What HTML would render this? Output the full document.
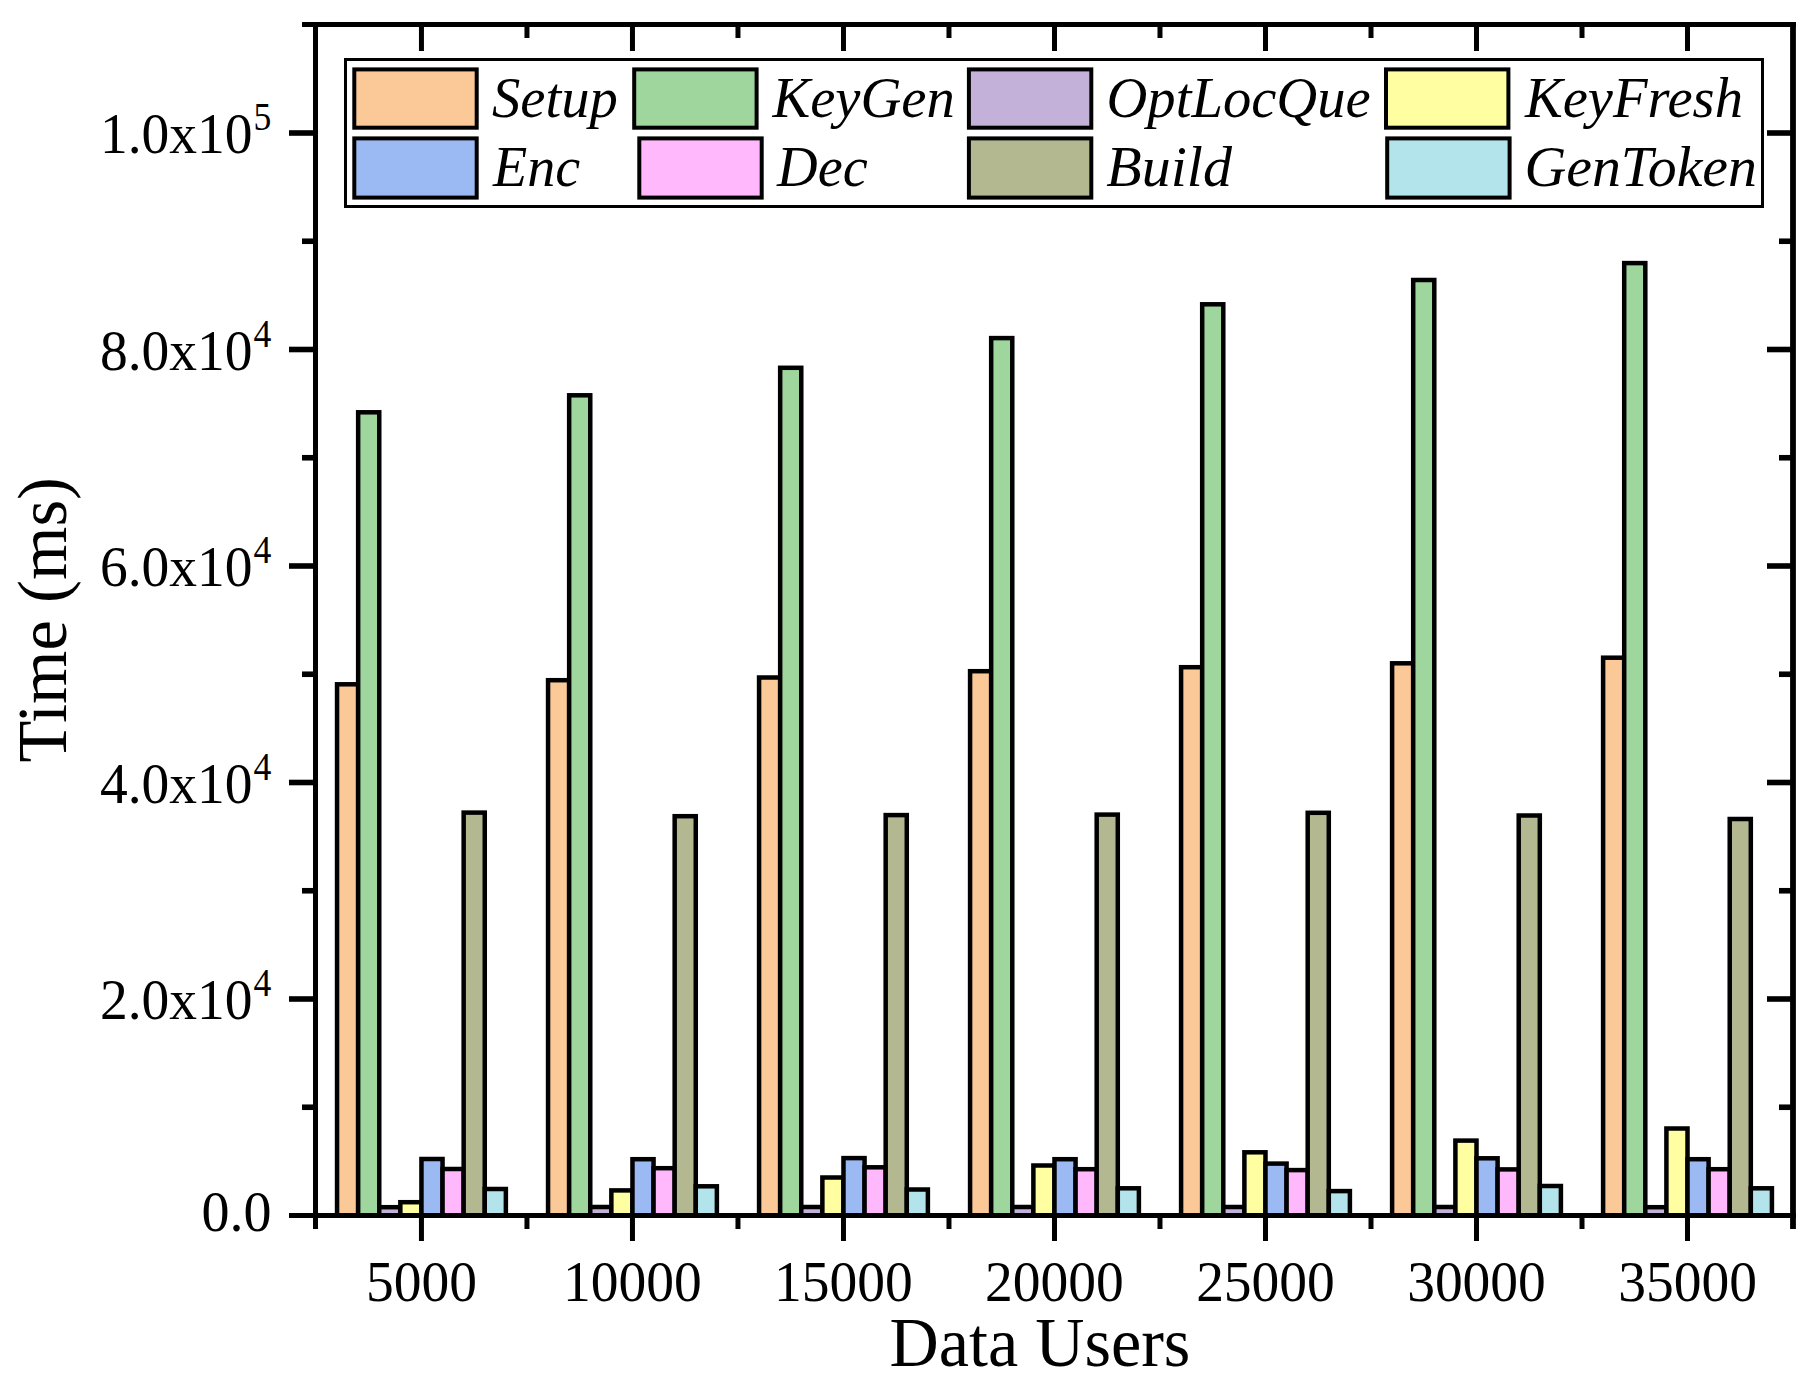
<!DOCTYPE html>
<html lang="en"><head><meta charset="utf-8"><title>Time vs Data Users</title>
<style>html,body{margin:0;padding:0;background:#fff;}body{width:1817px;height:1389px;overflow:hidden;}svg{display:block;}</style>
</head><body>
<svg width="1817" height="1389" viewBox="0 0 1817 1389">
<rect width="1817" height="1389" fill="#fff"/>
<g stroke="#000" stroke-width="4.5" stroke-linejoin="miter">
<rect x="337.05" y="684.30" width="21.10" height="531.20" fill="#FBC898"/>
<rect x="358.15" y="412.30" width="21.10" height="803.20" fill="#9FD69E"/>
<rect x="379.25" y="1207.20" width="21.10" height="8.30" fill="#C3B1D9"/>
<rect x="400.35" y="1202.20" width="21.10" height="13.30" fill="#FFFFA1"/>
<rect x="421.45" y="1159.00" width="21.10" height="56.50" fill="#9BBAF4"/>
<rect x="442.56" y="1169.00" width="21.10" height="46.50" fill="#FFB8FB"/>
<rect x="463.66" y="812.60" width="21.10" height="402.90" fill="#B3B890"/>
<rect x="484.76" y="1189.00" width="21.10" height="26.50" fill="#B3E4EB"/>
<rect x="548.06" y="680.20" width="21.10" height="535.30" fill="#FBC898"/>
<rect x="569.16" y="395.30" width="21.10" height="820.20" fill="#9FD69E"/>
<rect x="590.26" y="1207.00" width="21.10" height="8.50" fill="#C3B1D9"/>
<rect x="611.36" y="1190.40" width="21.10" height="25.10" fill="#FFFFA1"/>
<rect x="632.46" y="1159.20" width="21.10" height="56.30" fill="#9BBAF4"/>
<rect x="653.57" y="1168.20" width="21.10" height="47.30" fill="#FFB8FB"/>
<rect x="674.67" y="816.20" width="21.10" height="399.30" fill="#B3B890"/>
<rect x="695.77" y="1186.30" width="21.10" height="29.20" fill="#B3E4EB"/>
<rect x="759.07" y="677.50" width="21.10" height="538.00" fill="#FBC898"/>
<rect x="780.17" y="367.80" width="21.10" height="847.70" fill="#9FD69E"/>
<rect x="801.27" y="1207.00" width="21.10" height="8.50" fill="#C3B1D9"/>
<rect x="822.37" y="1177.50" width="21.10" height="38.00" fill="#FFFFA1"/>
<rect x="843.47" y="1158.10" width="21.10" height="57.40" fill="#9BBAF4"/>
<rect x="864.58" y="1167.30" width="21.10" height="48.20" fill="#FFB8FB"/>
<rect x="885.68" y="815.10" width="21.10" height="400.40" fill="#B3B890"/>
<rect x="906.78" y="1189.50" width="21.10" height="26.00" fill="#B3E4EB"/>
<rect x="970.08" y="671.20" width="21.10" height="544.30" fill="#FBC898"/>
<rect x="991.18" y="338.10" width="21.10" height="877.40" fill="#9FD69E"/>
<rect x="1012.28" y="1207.00" width="21.10" height="8.50" fill="#C3B1D9"/>
<rect x="1033.38" y="1165.50" width="21.10" height="50.00" fill="#FFFFA1"/>
<rect x="1054.48" y="1159.20" width="21.10" height="56.30" fill="#9BBAF4"/>
<rect x="1075.59" y="1169.20" width="21.10" height="46.30" fill="#FFB8FB"/>
<rect x="1096.69" y="814.60" width="21.10" height="400.90" fill="#B3B890"/>
<rect x="1117.79" y="1188.30" width="21.10" height="27.20" fill="#B3E4EB"/>
<rect x="1181.09" y="667.20" width="21.10" height="548.30" fill="#FBC898"/>
<rect x="1202.19" y="304.30" width="21.10" height="911.20" fill="#9FD69E"/>
<rect x="1223.29" y="1207.00" width="21.10" height="8.50" fill="#C3B1D9"/>
<rect x="1244.39" y="1152.30" width="21.10" height="63.20" fill="#FFFFA1"/>
<rect x="1265.49" y="1163.60" width="21.10" height="51.90" fill="#9BBAF4"/>
<rect x="1286.60" y="1170.10" width="21.10" height="45.40" fill="#FFB8FB"/>
<rect x="1307.70" y="812.80" width="21.10" height="402.70" fill="#B3B890"/>
<rect x="1328.80" y="1191.10" width="21.10" height="24.40" fill="#B3E4EB"/>
<rect x="1392.10" y="663.30" width="21.10" height="552.20" fill="#FBC898"/>
<rect x="1413.20" y="280.00" width="21.10" height="935.50" fill="#9FD69E"/>
<rect x="1434.30" y="1207.00" width="21.10" height="8.50" fill="#C3B1D9"/>
<rect x="1455.40" y="1140.60" width="21.10" height="74.90" fill="#FFFFA1"/>
<rect x="1476.50" y="1158.30" width="21.10" height="57.20" fill="#9BBAF4"/>
<rect x="1497.61" y="1169.40" width="21.10" height="46.10" fill="#FFB8FB"/>
<rect x="1518.71" y="815.50" width="21.10" height="400.00" fill="#B3B890"/>
<rect x="1539.81" y="1186.00" width="21.10" height="29.50" fill="#B3E4EB"/>
<rect x="1603.11" y="657.70" width="21.10" height="557.80" fill="#FBC898"/>
<rect x="1624.21" y="263.10" width="21.10" height="952.40" fill="#9FD69E"/>
<rect x="1645.31" y="1207.20" width="21.10" height="8.30" fill="#C3B1D9"/>
<rect x="1666.41" y="1128.50" width="21.10" height="87.00" fill="#FFFFA1"/>
<rect x="1687.52" y="1159.20" width="21.10" height="56.30" fill="#9BBAF4"/>
<rect x="1708.62" y="1169.20" width="21.10" height="46.30" fill="#FFB8FB"/>
<rect x="1729.72" y="819.00" width="21.10" height="396.50" fill="#B3B890"/>
<rect x="1750.82" y="1188.30" width="21.10" height="27.20" fill="#B3E4EB"/>
</g>
<g stroke="#000" stroke-width="5" fill="none" stroke-linecap="butt">
<line x1="302" y1="24.5" x2="1796" y2="24.5"/>
<line x1="289" y1="1215.5" x2="1796" y2="1215.5"/>
<line x1="315.5" y1="22" x2="315.5" y2="1229"/>
<line x1="1793.0" y1="22" x2="1793.0" y2="1229" stroke-width="5.8"/>
<line x1="421.45" y1="1217" x2="421.45" y2="1241"/>
<line x1="421.45" y1="26" x2="421.45" y2="51"/>
<line x1="632.46" y1="1217" x2="632.46" y2="1241"/>
<line x1="632.46" y1="26" x2="632.46" y2="51"/>
<line x1="843.47" y1="1217" x2="843.47" y2="1241"/>
<line x1="843.47" y1="26" x2="843.47" y2="51"/>
<line x1="1054.48" y1="1217" x2="1054.48" y2="1241"/>
<line x1="1054.48" y1="26" x2="1054.48" y2="51"/>
<line x1="1265.49" y1="1217" x2="1265.49" y2="1241"/>
<line x1="1265.49" y1="26" x2="1265.49" y2="51"/>
<line x1="1476.50" y1="1217" x2="1476.50" y2="1241"/>
<line x1="1476.50" y1="26" x2="1476.50" y2="51"/>
<line x1="1687.52" y1="1217" x2="1687.52" y2="1241"/>
<line x1="1687.52" y1="26" x2="1687.52" y2="51"/>
<line x1="526.96" y1="1217" x2="526.96" y2="1229"/>
<line x1="526.96" y1="26" x2="526.96" y2="38"/>
<line x1="737.97" y1="1217" x2="737.97" y2="1229"/>
<line x1="737.97" y1="26" x2="737.97" y2="38"/>
<line x1="948.98" y1="1217" x2="948.98" y2="1229"/>
<line x1="948.98" y1="26" x2="948.98" y2="38"/>
<line x1="1159.99" y1="1217" x2="1159.99" y2="1229"/>
<line x1="1159.99" y1="26" x2="1159.99" y2="38"/>
<line x1="1371.00" y1="1217" x2="1371.00" y2="1229"/>
<line x1="1371.00" y1="26" x2="1371.00" y2="38"/>
<line x1="1582.01" y1="1217" x2="1582.01" y2="1229"/>
<line x1="1582.01" y1="26" x2="1582.01" y2="38"/>
</g>
<g stroke="#000" stroke-width="5.6" fill="none">
<line x1="302" y1="1107.25" x2="314" y2="1107.25"/>
<line x1="1779" y1="1107.25" x2="1791" y2="1107.25"/>
<line x1="289" y1="999.00" x2="314" y2="999.00"/>
<line x1="1767" y1="999.00" x2="1791" y2="999.00"/>
<line x1="302" y1="890.75" x2="314" y2="890.75"/>
<line x1="1779" y1="890.75" x2="1791" y2="890.75"/>
<line x1="289" y1="782.50" x2="314" y2="782.50"/>
<line x1="1767" y1="782.50" x2="1791" y2="782.50"/>
<line x1="302" y1="674.25" x2="314" y2="674.25"/>
<line x1="1779" y1="674.25" x2="1791" y2="674.25"/>
<line x1="289" y1="566.00" x2="314" y2="566.00"/>
<line x1="1767" y1="566.00" x2="1791" y2="566.00"/>
<line x1="302" y1="457.75" x2="314" y2="457.75"/>
<line x1="1779" y1="457.75" x2="1791" y2="457.75"/>
<line x1="289" y1="349.50" x2="314" y2="349.50"/>
<line x1="1767" y1="349.50" x2="1791" y2="349.50"/>
<line x1="302" y1="241.25" x2="314" y2="241.25"/>
<line x1="1779" y1="241.25" x2="1791" y2="241.25"/>
<line x1="289" y1="133.00" x2="314" y2="133.00"/>
<line x1="1767" y1="133.00" x2="1791" y2="133.00"/>
</g>
<text transform="translate(421.45,1301.20) scale(1.0,1.04)" font-family="'Liberation Serif', 'Times New Roman', serif" font-size="55.5" text-anchor="middle" fill="#000">5000</text>
<text transform="translate(632.46,1301.20) scale(1.0,1.04)" font-family="'Liberation Serif', 'Times New Roman', serif" font-size="55.5" text-anchor="middle" fill="#000">10000</text>
<text transform="translate(843.47,1301.20) scale(1.0,1.04)" font-family="'Liberation Serif', 'Times New Roman', serif" font-size="55.5" text-anchor="middle" fill="#000">15000</text>
<text transform="translate(1054.48,1301.20) scale(1.0,1.04)" font-family="'Liberation Serif', 'Times New Roman', serif" font-size="55.5" text-anchor="middle" fill="#000">20000</text>
<text transform="translate(1265.49,1301.20) scale(1.0,1.04)" font-family="'Liberation Serif', 'Times New Roman', serif" font-size="55.5" text-anchor="middle" fill="#000">25000</text>
<text transform="translate(1476.50,1301.20) scale(1.0,1.04)" font-family="'Liberation Serif', 'Times New Roman', serif" font-size="55.5" text-anchor="middle" fill="#000">30000</text>
<text transform="translate(1687.52,1301.20) scale(1.0,1.04)" font-family="'Liberation Serif', 'Times New Roman', serif" font-size="55.5" text-anchor="middle" fill="#000">35000</text>
<text transform="translate(271.60,1230.50) scale(1.01,1.036)" font-family="'Liberation Serif', 'Times New Roman', serif" font-size="55.5" text-anchor="end" fill="#000">0.0</text>
<text transform="translate(252.50,1019.00) scale(1.0,1.036)" font-family="'Liberation Serif', 'Times New Roman', serif" font-size="55.5" text-anchor="end" fill="#000">2.0x10</text>
<text transform="translate(253.50,996.40) scale(0.95,1.04)" font-family="'Liberation Serif', 'Times New Roman', serif" font-size="37.5" text-anchor="start" fill="#000">4</text>
<text transform="translate(252.50,802.50) scale(1.0,1.036)" font-family="'Liberation Serif', 'Times New Roman', serif" font-size="55.5" text-anchor="end" fill="#000">4.0x10</text>
<text transform="translate(253.50,779.90) scale(0.95,1.04)" font-family="'Liberation Serif', 'Times New Roman', serif" font-size="37.5" text-anchor="start" fill="#000">4</text>
<text transform="translate(252.50,586.00) scale(1.0,1.036)" font-family="'Liberation Serif', 'Times New Roman', serif" font-size="55.5" text-anchor="end" fill="#000">6.0x10</text>
<text transform="translate(253.50,563.40) scale(0.95,1.04)" font-family="'Liberation Serif', 'Times New Roman', serif" font-size="37.5" text-anchor="start" fill="#000">4</text>
<text transform="translate(252.50,369.50) scale(1.0,1.036)" font-family="'Liberation Serif', 'Times New Roman', serif" font-size="55.5" text-anchor="end" fill="#000">8.0x10</text>
<text transform="translate(253.50,346.90) scale(0.95,1.04)" font-family="'Liberation Serif', 'Times New Roman', serif" font-size="37.5" text-anchor="start" fill="#000">4</text>
<text transform="translate(252.50,153.00) scale(1.0,1.036)" font-family="'Liberation Serif', 'Times New Roman', serif" font-size="55.5" text-anchor="end" fill="#000">1.0x10</text>
<text transform="translate(253.50,130.40) scale(0.95,1.04)" font-family="'Liberation Serif', 'Times New Roman', serif" font-size="37.5" text-anchor="start" fill="#000">5</text>
<text transform="translate(1040.00,1366.00) scale(1.002,1.024)" font-family="'Liberation Serif', 'Times New Roman', serif" font-size="68" text-anchor="middle" fill="#000">Data Users</text>
<text transform="translate(66.20,619.80) rotate(-90) scale(1.01,1.025)" font-family="'Liberation Serif', 'Times New Roman', serif" font-size="68" text-anchor="middle" fill="#000">Time (ms)</text>
<rect x="345.5" y="59.5" width="1417" height="147" fill="#fff" stroke="#000" stroke-width="3"/>
<g stroke="#000" stroke-width="4">
<rect x="354.3" y="69.4" width="122.4" height="58.3" fill="#FBC898"/>
<rect x="634.2" y="69.4" width="122.4" height="58.3" fill="#9FD69E"/>
<rect x="968.9" y="69.4" width="122.4" height="58.3" fill="#C3B1D9"/>
<rect x="1386.0" y="69.4" width="122.4" height="58.3" fill="#FFFFA1"/>
<rect x="354.3" y="138.4" width="122.4" height="59.2" fill="#9BBAF4"/>
<rect x="639.3" y="138.4" width="122.4" height="59.2" fill="#FFB8FB"/>
<rect x="968.9" y="138.4" width="122.4" height="59.2" fill="#B3B890"/>
<rect x="1387.2" y="138.4" width="122.4" height="59.2" fill="#B3E4EB"/>
</g>
<text transform="translate(492.00,117.40) scale(1.02,1.04)" font-family="'Liberation Serif', 'Times New Roman', serif" font-size="55.5" text-anchor="start" fill="#000" font-style="italic">Setup</text>
<text transform="translate(772.50,117.40) scale(1.02,1.04)" font-family="'Liberation Serif', 'Times New Roman', serif" font-size="55.5" text-anchor="start" fill="#000" font-style="italic">KeyGen</text>
<text transform="translate(1106.50,117.40) scale(1.02,1.04)" font-family="'Liberation Serif', 'Times New Roman', serif" font-size="55.5" text-anchor="start" fill="#000" font-style="italic">OptLocQue</text>
<text transform="translate(1525.00,117.40) scale(1.02,1.04)" font-family="'Liberation Serif', 'Times New Roman', serif" font-size="55.5" text-anchor="start" fill="#000" font-style="italic">KeyFresh</text>
<text transform="translate(493.00,185.70) scale(1.01,1.04)" font-family="'Liberation Serif', 'Times New Roman', serif" font-size="55.5" text-anchor="start" fill="#000" font-style="italic">Enc</text>
<text transform="translate(777.00,185.70) scale(1.015,1.04)" font-family="'Liberation Serif', 'Times New Roman', serif" font-size="55.5" text-anchor="start" fill="#000" font-style="italic">Dec</text>
<text transform="translate(1106.30,185.70) scale(1.045,1.04)" font-family="'Liberation Serif', 'Times New Roman', serif" font-size="55.5" text-anchor="start" fill="#000" font-style="italic">Build</text>
<text transform="translate(1524.40,185.70) scale(1.043,1.04)" font-family="'Liberation Serif', 'Times New Roman', serif" font-size="55.5" text-anchor="start" fill="#000" font-style="italic">GenToken</text>
</svg>
</body></html>
